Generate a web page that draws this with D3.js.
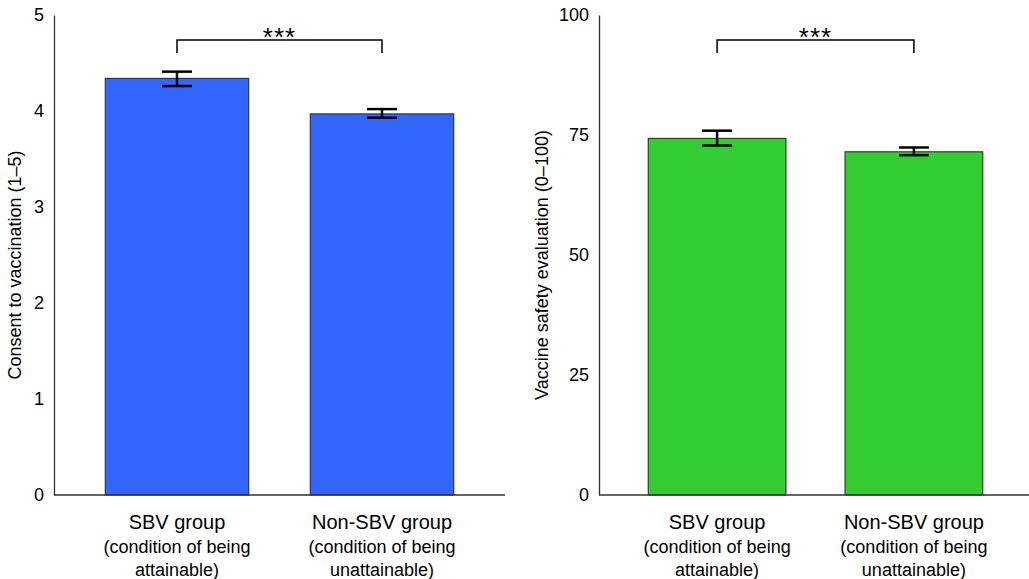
<!DOCTYPE html>
<html>
<head>
<meta charset="utf-8">
<script src="https://cdn.jsdelivr.net/npm/d3@7"></script>
<style>
  body { margin: 0; background: #fff; }
  svg text { font-family: "Liberation Sans", Arial, Helvetica, sans-serif; fill: #000; }
</style>
</head>
<body>
<script>
// Data
var groups = ["SBV", "Non-SBV"];
var groupTitles = ["SBV group", "Non-SBV group"];
var groupSub1 = ["(condition of being", "(condition of being"];
var groupSub2 = ["attainable)", "unattainable)"];

var consentMean = [4.34, 3.97];
var consentLow = [4.26, 3.93];
var consentHigh = [4.41, 4.02];
var consentTicks = [0, 1, 2, 3, 4, 5];

var safetyMean = [74.3, 71.5];
var safetyLow = [72.8, 70.8];
var safetyHigh = [75.9, 72.4];
var safetyTicks = [0, 25, 50, 75, 100];

var svg = d3.select("body").append("svg")
    .attr("width", 1029)
    .attr("height", 579);

function drawPanel(opt) {
    var g = svg.append("g");

    var x = d3.scaleBand()
        .domain(groups)
        .range([opt.x0, opt.x1])
        .paddingInner(0.30)
        .paddingOuter(0.25);

    var y = d3.scaleLinear()
        .domain([0, opt.max])
        .range([495, 15]);

    // bars
    g.selectAll("rect.bar")
        .data(groups)
        .enter().append("rect")
        .attr("class", "bar")
        .attr("x", function(d) { return x(d); })
        .attr("width", x.bandwidth())
        .attr("y", function(d, i) { return y(opt.mean[i]); })
        .attr("height", function(d, i) { return y(0) - y(opt.mean[i]); })
        .style("fill", opt.color)
        .style("stroke", "#222")
        .style("stroke-width", 1);

    // error bars
    var eb = g.selectAll("g.err")
        .data(groups)
        .enter().append("g")
        .attr("class", "err");
    eb.append("line")
        .attr("x1", function(d) { return x(d) + x.bandwidth() / 2; })
        .attr("x2", function(d) { return x(d) + x.bandwidth() / 2; })
        .attr("y1", function(d, i) { return y(opt.low[i]); })
        .attr("y2", function(d, i) { return y(opt.high[i]); });
    eb.append("line")
        .attr("x1", function(d) { return x(d) + x.bandwidth() / 2 - 15; })
        .attr("x2", function(d) { return x(d) + x.bandwidth() / 2 + 15; })
        .attr("y1", function(d, i) { return y(opt.low[i]); })
        .attr("y2", function(d, i) { return y(opt.low[i]); });
    eb.append("line")
        .attr("x1", function(d) { return x(d) + x.bandwidth() / 2 - 15; })
        .attr("x2", function(d) { return x(d) + x.bandwidth() / 2 + 15; })
        .attr("y1", function(d, i) { return y(opt.high[i]); })
        .attr("y2", function(d, i) { return y(opt.high[i]); });
    eb.selectAll("line")
        .style("stroke", "#000")
        .style("stroke-width", 2.5);

    // y axis
    var yaxis = d3.axisLeft(y)
        .tickValues(opt.ticks)
        .tickFormat(d3.format("d"))
        .tickSize(0)
        .tickPadding(10);
    var ya = g.append("g")
        .attr("transform", "translate(" + opt.x0 + ",0)")
        .call(yaxis);
    ya.select(".domain").style("stroke", "#333").style("stroke-width", 1.3);
    ya.selectAll("text").style("font-size", "18px");

    // x axis line
    g.append("line")
        .attr("x1", opt.x0)
        .attr("x2", opt.x1)
        .attr("y1", y(0))
        .attr("y2", y(0))
        .style("stroke", "#333")
        .style("stroke-width", 1.3);

    // category labels
    var lab = g.selectAll("g.lab")
        .data(groups)
        .enter().append("g")
        .attr("class", "lab")
        .attr("transform", function(d) { return "translate(" + (x(d) + x.bandwidth() / 2) + ",0)"; });
    lab.append("text")
        .attr("y", 529)
        .attr("text-anchor", "middle")
        .style("font-size", "20px")
        .text(function(d, i) { return groupTitles[i]; });
    lab.append("text")
        .attr("y", 553)
        .attr("text-anchor", "middle")
        .style("font-size", "18px")
        .text(function(d, i) { return groupSub1[i]; });
    lab.append("text")
        .attr("y", 576)
        .attr("text-anchor", "middle")
        .style("font-size", "18px")
        .text(function(d, i) { return groupSub2[i]; });

    // axis title
    g.append("text")
        .attr("transform", "translate(" + opt.titleX + ",265) rotate(-90)")
        .attr("text-anchor", "middle")
        .style("font-size", "18px")
        .text(opt.title);

    // significance bracket
    var bx1 = x(groups[0]) + x.bandwidth() / 2;
    var bx2 = x(groups[1]) + x.bandwidth() / 2;
    g.append("path")
        .attr("d", "M" + bx1 + ",53V40H" + bx2 + "V53")
        .style("fill", "none")
        .style("stroke", "#000")
        .style("stroke-width", 1.5);
    g.append("text")
        .attr("x", (bx1 + bx2) / 2)
        .attr("y", 46)
        .attr("text-anchor", "middle")
        .style("font-size", "26px")
        .style("letter-spacing", "1px")
        .text("***");
}

drawPanel({
    x0: 54, x1: 505, max: 5, color: "#3366ff",
    mean: consentMean, low: consentLow, high: consentHigh, ticks: consentTicks,
    title: "Consent to vaccination (1\u20135)", titleX: 21
});

drawPanel({
    x0: 599, x1: 1032, max: 100, color: "#33cc33",
    mean: safetyMean, low: safetyLow, high: safetyHigh, ticks: safetyTicks,
    title: "Vaccine safety evaluation (0\u2013100)", titleX: 548
});
</script>
</body>
</html>
